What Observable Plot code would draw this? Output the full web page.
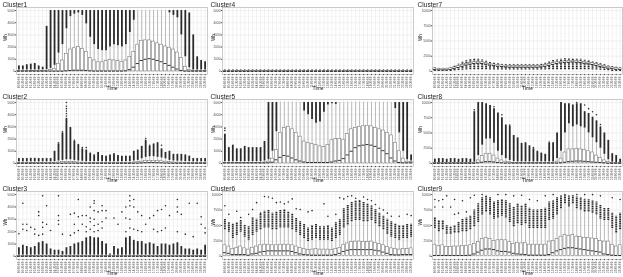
<!DOCTYPE html>
<html><head><meta charset="utf-8">
<script src="https://cdn.jsdelivr.net/npm/d3@7"></script>
<script src="https://cdn.jsdelivr.net/npm/@observablehq/plot@0.6"></script>
<style>
body{margin:0;background:#fff;}
#wrap{position:relative;width:623px;height:277px;overflow:hidden;background:#fff}
#wrap svg{position:absolute;overflow:visible;filter:grayscale(1)}
</style></head><body><div id="wrap"></div><script>
const times = ["00:00:00","00:30:00","01:00:00","01:30:00","02:00:00","02:30:00","03:00:00","03:30:00","04:00:00","04:30:00","05:00:00","05:30:00","06:00:00","06:30:00","07:00:00","07:30:00","08:00:00","08:30:00","09:00:00","09:30:00","10:00:00","10:30:00","11:00:00","11:30:00","12:00:00","12:30:00","13:00:00","13:30:00","14:00:00","14:30:00","15:00:00","15:30:00","16:00:00","16:30:00","17:00:00","17:30:00","18:00:00","18:30:00","19:00:00","19:30:00","20:00:00","20:30:00","21:00:00","21:30:00","22:00:00","22:30:00","23:00:00","23:30:00"];
const yTicks5k = [0,1000,2000,3000,4000,5000];
const yTicks10k = [0,2500,5000,7500,10000];

// Cluster1
const c1_med = [20,20,20,20,20,20,20,20,20,20,20,20, 50,80,100,100,100,80,50,30,30,30,30,30, 30,30,30,50,150,350,650,900,1000,1050,1000,900, 800,650,500,350,200,80,30,20,20,20,20,20];
const c1_q3 = [50,50,50,50,50,50,50,60,100,200,630,900, 1450,1800,1900,2000,1850,1600,1100,900,750,750,850,950, 900,850,800,900,1200,1600,2200,2500,2550,2550,2450,2300, 2200,2050,1950,1800,1550,1100,350,120,50,50,50,50];
const c1_whi = [120,120,120,120,120,120,120,150,250,500,1500,2200, 3500,4500,4700,4800,4600,3900,2800,2200,1800,1700,1700,2000, 2200,2100,2000,2200,3200,4200,5000,5000,5000,5000,5000,5000, 5000,5000,4800,4600,4400,3000,1200,300,120,120,120,120];
const c1_out = [450,450,550,600,650,450,350,3700,5000,5000,5000,5000, 5000,5000,5000,5000,5000,5000,5000,5000,5000,5000,5000,5000, 5000,5000,5000,5000,5000,5000,5000,5000,5000,5000,5000,5000, 5000,5000,5000,5000,5000,5000,5000,4800,3000,1200,900,800];

// Cluster2
const c2_med = [10,10,10,10,10,10,10,10,10,10,10,10, 20,20,20,10,10,10,10,10,10,10,10,10, 10,10,10,10,10,10,20,40,60,70,70,60, 50,30,20,10,10,10,10,10,10,10,10,10];
const c2_q3 = [50,50,50,50,50,50,50,50,50,60,80,100, 120,120,100,80,70,60,60,60,60,60,60,60, 60,60,60,60,60,80,100,150,200,220,220,200, 180,150,100,80,70,70,60,60,50,50,50,50];
const c2_whi = [130,130,130,130,130,130,130,130,130,150,200,250, 300,300,250,200,180,150,150,150,150,150,150,150, 150,150,150,150,150,200,250,380,500,550,550,500, 450,380,250,200,180,180,150,150,130,130,130,130];
const c2_out = [400,400,400,420,420,400,400,400,400,1000,1600,2500, 3700,2900,1800,1500,1200,1100,850,700,900,650,600,700, 800,650,600,600,600,1000,1100,1400,1900,1400,1600,1700, 1200,900,1000,750,750,750,700,600,400,400,400,400];
const c2_pts = [[10,1700],[11,2600],[12,3900],[12,4100],[12,4300],[12,4500],[12,4700],[12,5000],[13,2950],[14,1900],[15,1550],[16,1300],[17,1300],[32,2050],[33,1500],[36,1500]];

// Cluster3
const c3_med = [0,0,0,0,0,0,0,0,0,0,0,0, 0,0,0,0,0,0,0,0,0,0,0,0, 0,0,0,0,0,0,0,0,0,0,0,0, 0,0,0,0,0,0,0,0,0,0,0,0];
const c3_q3 = [40,40,40,40,40,40,40,40,40,40,40,40, 40,40,40,40,40,40,40,40,40,40,40,40, 40,40,40,40,40,40,40,40,40,40,40,40, 40,40,40,40,40,40,40,40,40,40,40,40];
const c3_whi = [100,100,100,100,100,100,100,100,100,100,100,100, 100,100,100,100,100,100,100,100,100,100,100,100, 100,100,100,100,100,100,100,100,100,100,100,100, 100,100,100,100,100,100,100,100,100,100,100,100];
const c3_out = [700,900,800,700,800,1100,1200,1000,600,500,500,400, 700,800,1000,1100,1200,1500,1600,1500,1500,1200,1000,200, 800,600,700,1500,1600,1300,1200,1200,1000,1100,1000,800, 1000,1000,900,1000,1100,800,600,600,500,600,500,900];
const c3_pts = [[0,1830],[1,4300],[1,2600],[1,2200],[2,2600],[2,2100],[3,2350],[4,2200],[4,1800],[5,3600],[5,3300],[5,1700],[6,4900],[6,2750],[6,2350],[6,1800],[7,4100],[7,2600],[8,2100],[10,4900],[10,3300],[10,2900],[10,2600],[11,1800],[13,3400],[13,1700],[14,3500],[14,2600],[14,1900],[15,4600],[15,3200],[15,2100],[16,3300],[16,2600],[17,3300],[17,2000],[17,2400],[18,4000],[18,3100],[18,2200],[18,2800],[19,4500],[19,4300],[19,3700],[19,2000],[19,2500],[19,3000],[20,3600],[20,2600],[20,2100],[21,4100],[21,3700],[21,2300],[21,2800],[22,3700],[22,3100],[24,3100],[25,2600],[26,3600],[27,4000],[27,3100],[27,2000],[28,4900],[28,4500],[28,4100],[28,2300],[28,3000],[29,4600],[29,4000],[29,2200],[30,3600],[30,2100],[31,3300],[31,2000],[32,2600],[33,3100],[34,3300],[34,2200],[35,3700],[35,2000],[36,3800],[36,2100],[37,4100],[37,2300],[38,3300],[40,4600],[40,4000],[40,3600],[40,2000],[41,3400],[42,1800],[43,4300],[44,1600],[45,4300],[46,3200],[46,2600],[47,1900],[47,2300]];

// Cluster4
const c4_med = [0,0,0,0,0,0,0,0,0,0,0,0, 0,0,0,0,0,0,0,0,0,0,0,0, 0,0,0,0,0,0,0,0,0,0,0,0, 0,0,0,0,0,0,0,0,0,0,0,0];
const c4_q3 = [20,20,20,20,20,20,20,20,20,20,20,20, 20,20,20,20,20,20,20,20,20,20,20,20, 20,20,20,20,20,20,20,20,20,20,20,20, 20,20,20,20,20,20,20,20,20,20,20,20];
const c4_whi = [40,40,40,40,40,40,40,40,40,40,40,40, 40,40,40,40,40,40,40,40,40,40,40,40, 40,40,40,40,40,40,40,40,40,40,40,40, 40,40,40,40,40,40,40,40,40,40,40,40];
const c4_out = [120,120,120,120,120,120,120,120,120,120,120,120, 120,120,120,120,120,120,120,120,120,120,120,120, 120,120,120,120,120,120,120,120,120,120,120,120, 120,120,120,120,120,120,120,120,120,120,120,120];

// Cluster5
const c5_med = [40,40,40,40,40,40,40,40,40,40,40,50, 100,300,500,650,600,450,300,200,120,80,80,80, 80,80,80,120,200,250,400,700,1000,1300,1450,1500, 1550,1500,1400,1250,1050,800,450,200,80,50,50,50];
const c5_q3 = [60,60,60,60,60,60,60,60,60,60,80,150, 400,1100,2500,2900,3000,2800,2500,2200,1800,1700,1600,1500, 1400,1350,1500,1900,2000,2000,1950,2400,2800,2900,3000,3050, 3100,3050,2900,2800,2700,2500,2300,1700,1000,400,150,100];
const c5_whi = [150,150,150,150,150,150,150,150,150,150,200,300, 1000,2600,5000,5000,5000,5000,5000,5000,4300,4000,3600,3300, 3400,4200,4800,4900,4850,5000,5000,5000,5000,5000,5000,5000, 5000,5000,5000,5000,5000,5000,5000,4500,2500,1000,300,200];
const c5_out = [2400,1300,1500,1200,1200,1400,1300,1300,1300,1300,1800,5000, 5000,5000,5000,5000,5000,5000,5000,5000,5000,5000,5000,5000, 5000,5000,5000,5000,5000,5000,5000,5000,5000,5000,5000,5000, 5000,5000,5000,5000,5000,5000,5000,5000,5000,5000,5000,700];
const c5_pts = [[0,2700],[0,2900]];

// Cluster6
const c6_q1 = [100,100,100,100,100,100,100,100,100,100,100,100, 100,100,100,100,100,100,100,100,100,100,100,100, 100,100,100,100,100,100,100,100,100,100,100,100, 100,100,100,100,100,100,100,100,100,100,100,100];
const c6_med = [600,500,300,300,300,300,200,400,500,700,800,900, 900,900,900,900,900,800,600,400,300,250,200,200, 200,200,200,200,300,500,800,1000,1100,1100,1100,1100, 1100,1100,1000,900,700,500,300,250,250,300,300,300];
const c6_q3 = [1800,1600,1200,1400,1600,1300,1100,1400,1600,1800,1900,1900, 1800,1800,1900,1900,1900,1800,1600,1400,1200,1000,1100,1200, 1100,1100,1100,1000,1200,1400,1900,2100,2300,2400,2400,2300, 2300,2400,2200,2000,1800,1500,1300,1200,1100,1200,1200,1300];
const c6_whi = [4300,3900,2900,3400,3900,3100,2600,3400,3900,4300,4600,4600, 4300,4300,4600,4600,4600,4300,3900,3400,2900,2400,2600,2900, 2600,2600,2600,2400,2900,3400,4600,5100,5600,5800,5800,5600, 5600,5800,5300,4800,4300,3600,3100,2900,2600,2900,2900,3100];
const c6_out = [6000,5500,5300,5500,5800,5000,4800,6200,6000,6800,7300,7500, 7000,7200,7500,7600,7200,6800,6200,5600,5200,4600,5000,5200, 4800,4800,5000,4600,5500,6000,7800,8300,8800,9000,9000,8800, 8500,8200,7600,7000,6500,6000,5600,5300,5000,5000,5200,5200];
const c6_pts = [[0,8200],[1,6800],[3,7300],[4,6300],[6,6800],[7,7600],[8,8700],[9,7000],[10,9700],[11,9600],[12,9400],[13,8700],[14,8800],[15,8500],[16,8800],[17,9300],[18,7700],[19,7600],[21,7200],[22,7400],[25,8500],[26,6500],[28,6800],[29,9500],[30,9300],[31,9700],[32,9800],[33,9400],[34,9000],[35,9600],[36,9200],[37,9000],[38,8400],[39,7800],[40,7500],[41,7000],[42,6500],[44,6500],[46,6800],[47,6600]];

// Cluster7
const c7_q1 = [200,150,150,150,200,350,550,750,950,1100,1200,1250, 1200,1100,950,850,750,700,650,600,600,600,600,600, 600,600,600,650,750,900,1050,1200,1300,1350,1400,1450, 1400,1350,1250,1150,1050,900,750,600,450,350,250,200];
const c7_med = [300,250,250,250,300,450,650,850,1050,1200,1300,1350, 1300,1200,1050,950,850,800,750,700,700,700,700,700, 700,700,700,750,850,1000,1150,1300,1400,1450,1500,1550, 1500,1450,1350,1250,1150,1000,850,700,550,450,350,300];
const c7_q3 = [500,450,450,450,500,650,850,1050,1250,1400,1500,1550, 1500,1400,1250,1150,1050,1000,950,900,900,900,900,900, 900,900,900,950,1050,1200,1350,1500,1600,1650,1700,1750, 1700,1650,1550,1450,1350,1200,1050,900,750,650,550,500];
const c7_out = [600,500,500,500,600,900,1200,1500,1800,1950,2000,2000, 1900,1700,1500,1350,1250,1150,1100,1100,1100,1100,1100,1100, 1100,1100,1100,1200,1400,1600,1800,1900,2000,2100,2100,2100, 2050,2000,1900,1800,1650,1500,1300,1100,900,800,700,600];
const c7_outLo = [0,0,0,0,0,100,150,200,250,300,300,300, 300,300,250,250,250,250,250,250,250,250,250,250, 250,250,250,250,250,300,300,300,300,300,300,300, 300,300,300,300,250,250,200,150,100,0,0,0];

// Cluster8
const c8_med = [10,10,10,10,10,10,10,10,10,10,20,100, 200,300,300,250,150,100,50,50,50,50,50,50, 50,50,50,50,50,50,50,50,100,200,300,350, 400,400,350,300,250,200,150,100,20,20,20,20];
const c8_q3 = [50,50,50,50,50,50,50,50,50,50,100,500, 1200,1600,1600,1300,800,500,300,200,100,100,100,100, 100,100,100,100,100,100,100,300,800,1800,2300,2300, 2400,2300,2200,2000,1800,1300,900,500,200,50,50,50];
const c8_whi = [100,100,100,100,100,100,100,100,100,100,200,1300, 3000,4000,4000,3300,2000,1300,800,500,300,250,250,250, 250,250,250,250,250,250,250,800,2000,5000,6500,6000, 6300,6000,5800,5000,4200,3400,2500,1500,600,200,150,100];
const c8_out = [700,800,800,700,800,800,700,800,800,700,8500,10000, 10000,9800,9500,9000,8300,7500,6200,6100,4600,4200,3300,3400, 2900,2400,1900,1700,1500,3300,3400,5000,10000,9800,9800,9600, 9800,9800,8500,8200,7600,7000,6000,5000,3800,1600,1300,700];
const c8_pts = [[10,8800],[15,9300],[17,8000],[18,6300],[19,6300],[25,2600],[26,2000],[29,3500],[36,10000],[38,9600],[39,9000],[40,8500],[41,8000],[42,6400]];

// Cluster9
const c9_q1 = [100,100,100,100,100,100,100,100,100,100,100,100, 100,100,100,100,100,100,100,100,100,100,100,100, 100,100,100,100,100,100,100,100,100,100,100,100, 100,100,100,100,100,100,100,100,100,100,100,100];
const c9_med = [150,150,150,150,150,150,150,150,150,200,400,700, 1000,1200,1200,1100,900,800,800,700,500,400,350,300, 200,200,200,200,200,300,600,900,1100,1300,1400,1400, 1300,1200,1100,1000,900,800,700,400,300,200,150,150];
const c9_q3 = [1900,1700,1800,1500,1500,1600,1600,1700,1700,1800,2000,2300, 2800,3000,2800,2500,2600,2700,2600,2300,2000,2200,2100,2200, 1900,1900,1900,1900,1900,2400,2500,2800,3200,3500,3300,3500, 3200,3100,3000,3000,2900,2800,2500,2400,2400,1900,1600,1800];
const c9_whi = [4500,4000,4300,3600,3600,3800,3800,4000,4000,4300,4800,5500, 6700,7200,6700,6000,6200,6500,6200,5500,4800,5300,5000,5300, 4500,4500,4500,4500,4500,5800,6000,6700,7700,8500,8000,8500, 7700,7500,7200,7200,7000,6700,6000,5800,5800,4500,3800,4300];
const c9_out = [6300,5800,5800,5000,4800,5000,5500,6000,6200,6500,7500,8500, 9500,9800,9500,8800,9000,9200,9000,8500,8000,8500,8200,8500, 7800,7500,7500,7600,7800,8800,9000,9500,9800,9800,9800,9800, 9600,9500,9300,9200,9000,8800,8300,7800,7800,7000,6500,7000];
const c9_pts = [[0,8000],[0,9200],[1,9000],[2,8000],[2,9200],[3,9800],[4,8000],[5,6800],[5,9200],[6,7000],[7,9000],[8,7200],[9,9500],[10,9900],[12,10000],[16,10000],[18,10000],[20,9800],[22,9900],[24,9200],[26,9000],[28,9800],[30,10000],[33,10000],[36,10000],[38,10000],[40,10000],[42,9800],[45,9500],[47,9200]];

const panels = [
  {name:"Cluster1", col:0, row:0, yMax:5000, ticks:yTicks5k, med:c1_med, q3:c1_q3, whi:c1_whi, out:c1_out},
  {name:"Cluster2", col:0, row:1, yMax:5000, ticks:yTicks5k, med:c2_med, q3:c2_q3, whi:c2_whi, out:c2_out, pts:c2_pts},
  {name:"Cluster3", col:0, row:2, yMax:5000, ticks:yTicks5k, med:c3_med, q3:c3_q3, whi:c3_whi, out:c3_out, pts:c3_pts},
  {name:"Cluster4", col:1, row:0, yMax:5000, ticks:yTicks5k, med:c4_med, q3:c4_q3, whi:c4_whi, out:c4_out},
  {name:"Cluster5", col:1, row:1, yMax:5000, ticks:yTicks5k, med:c5_med, q3:c5_q3, whi:c5_whi, out:c5_out, pts:c5_pts},
  {name:"Cluster6", col:1, row:2, yMax:10000, ticks:yTicks10k, q1:c6_q1, med:c6_med, q3:c6_q3, whi:c6_whi, out:c6_out, pts:c6_pts, dotted:true},
  {name:"Cluster7", col:2, row:0, yMax:10000, ticks:yTicks10k, q1:c7_q1, med:c7_med, q3:c7_q3, whi:c7_q3, out:c7_out, outLo:c7_outLo, dotted:true},
  {name:"Cluster8", col:2, row:1, yMax:10000, ticks:yTicks10k, med:c8_med, q3:c8_q3, whi:c8_whi, out:c8_out, pts:c8_pts},
  {name:"Cluster9", col:2, row:2, yMax:10000, ticks:yTicks10k, q1:c9_q1, med:c9_med, q3:c9_q3, whi:c9_whi, out:c9_out, pts:c9_pts, dotted:true}
];

const colPos = [{left:0,width:208,mL:16,mR:1},{left:208,width:207,mL:14,mR:2},{left:415,width:208,mL:17,mR:1}];
const rowPos = [{top:0,height:92,fh:67},{top:92,height:92,fh:67},{top:184,height:93,fh:68}];
const wrap = document.getElementById("wrap");
const ink = "#2a2a2a";

for (const p of panels) {
  const c = colPos[p.col], r = rowPos[p.row];
  const data = times.map((t,i)=>({t, q1: p.q1 ? p.q1[i] : 0, med:p.med[i], q3:p.q3[i], whi:p.whi[i], out:p.out[i], lo: p.outLo ? p.outLo[i] : null}));
  const pad = p.yMax*0.05;
  const stepT = p.ticks[1]-p.ticks[0];
  const minor = p.ticks.slice(0,-1).map(v=>v+stepT/2);
  const dense = {stroke:ink, strokeWidth: p.dotted ? 1.9 : 1.8};
  if (p.dotted) dense.strokeDasharray = "1.3,0.5";
  const marks = [
    Plot.ruleY(minor, {stroke:"#f2f2f2", strokeWidth:0.5}),
    Plot.ruleY(p.ticks, {stroke:"#e8e8e8", strokeWidth:0.6}),
    Plot.ruleX(times, {stroke:"#e8e8e8", strokeWidth:0.6}),
    Plot.ruleX(data.filter(d=>d.out>d.whi), {x:"t", y1:"whi", y2:"out", ...dense}),
    Plot.ruleX(data, {x:"t", y1:"q3", y2:"whi", stroke:"#808080", strokeWidth:0.5}),
    Plot.barY(data, {x:"t", y1:"q1", y2:"q3", fill:"white", stroke:"#666", strokeWidth:0.5}),
    Plot.tickY(data, {x:"t", y:"med", stroke:"#1f1f1f", strokeWidth:0.9}),
    Plot.frame({stroke:"#a8a8a8", strokeWidth:0.6}),
    Plot.axisX({tickRotate:-90, fontSize:3, tickSize:1.2, tickPadding:0.6, label:null, color:"#4d4d4d"}),
    Plot.axisY({ticks:p.ticks, tickFormat:d=>String(d), fontSize:3.2, tickSize:1.2, tickPadding:0.8, label:null, color:"#4d4d4d"}),
    Plot.text([p.name], {frameAnchor:"top-left", dx:-(c.mL-2), dy:-1, lineAnchor:"bottom", fontSize:6.6, fill:"#1a1a1a", text:d=>d}),
    Plot.text(["Wh"], {frameAnchor:"left", dx:-(c.mL-5), rotate:-90, fontSize:4.6, fill:"#1a1a1a", text:d=>d}),
    Plot.text(["Time"], {frameAnchor:"bottom", dy:12, lineAnchor:"top", fontSize:5, fill:"#1a1a1a", text:d=>d})
  ];
  if (p.outLo) marks.splice(4, 0, Plot.ruleX(data.filter(d=>d.lo!=null && d.lo<d.q1), {x:"t", y1:"lo", y2:"q1", ...dense}));
  if (p.pts) marks.splice(7, 0, Plot.dot(p.pts, {x:d=>times[d[0]], y:d=>d[1], r:0.8, fill:ink, stroke:"none"}));
  const svg = Plot.plot({
    width:c.width, height:r.height,
    marginLeft:c.mL, marginRight:c.mR, marginTop:7, marginBottom:r.height-7-r.fh,
    style:{fontFamily:"'Liberation Sans', Arial, sans-serif", background:"transparent", overflow:"visible"},
    x:{type:"band", domain:times, paddingInner:0.25, paddingOuter:0.225, axis:null},
    y:{domain:[-pad, p.yMax+pad], axis:null},
    marks
  });
  svg.style.left = c.left + "px";
  svg.style.top = r.top + "px";
  wrap.appendChild(svg);
}
</script></body></html>
